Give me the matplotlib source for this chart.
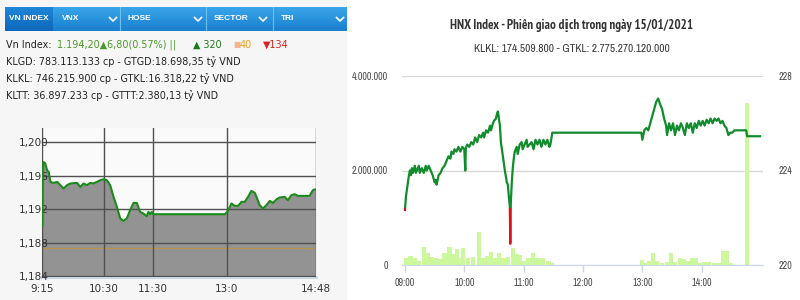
import numpy as np
import matplotlib.pyplot as plt
from matplotlib import font_manager as fm
from matplotlib.patches import Rectangle
from matplotlib.colors import LinearSegmentedColormap

# ---------------- left: VN-Index intraday (minutes after 9:15)
vn_minutes = [0, 0.85, 3.3, 5.7, 7.7, 9.7, 13.7, 17.9, 21.9, 25.9, 30, 34,
              42.2, 46.2, 50.2, 54.3, 58.3, 62.3, 66.5, 70.5, 74.5, 78.6, 82.6, 86.7,
              90.8, 94.8, 98.8, 102.9, 106.9, 111, 115.1, 119.1, 123.1, 127.2, 129.2, 131.3,
              133.3, 135.3, 222.4, 225.2, 228.5, 230.5, 234.5, 238.6, 242.7, 246.7, 250.7, 254.8,
              258.9, 261.7, 264.9, 268.9, 273.1, 277.1, 281.1, 285.2, 289.2, 295.3, 299.3, 303.5,
              307.5, 311.5, 325.7, 329.7, 331.8, 333]
vn_values = [1190.0, 1197.65, 1197.5, 1196.66, 1196.45, 1195.26, 1195.14, 1195.26, 1194.87, 1194.47, 1194.87, 1195.07,
             1195.14, 1194.66, 1195.07, 1194.87, 1195.14, 1195.07, 1195.26, 1195.46, 1195.58, 1195.46, 1194.87, 1193.47,
             1192.28, 1190.9, 1190.6, 1190.9, 1191.88, 1192.75, 1192.75, 1191.68, 1191.48, 1191.16, 1191.68, 1191.4,
             1191.68, 1191.4, 1191.4, 1191.68, 1192.28, 1192.68, 1192.4, 1192.4, 1192.88, 1192.88, 1193.47, 1194.19,
             1193.95, 1193.28, 1192.48, 1192.08, 1192.48, 1192.99, 1192.75, 1193.16, 1193.4, 1193.47, 1193.08, 1193.67,
             1193.79, 1193.59, 1193.59, 1194.27, 1194.35, 1194.35]
vn_ref = 1187.4
vn_xticks = [0, 75, 135, 225, 333]
vn_xlabels = ['9:15', '10:30', '11:30', '13:0', '14:48']
vn_yticks = [1184, 1188, 1192, 1196, 1200]
vn_ylabels = ['1,184', '1,188', '1,192', '1,196', '1,200']

tabs = ['VN INDEX', 'VNX', 'HOSE', 'SECTOR', 'TRI']
info_lines = ['KLGD: 783.113.133 cp - GTGD:18.698,35 tỷ VND',
              'KLKL: 746.215.900 cp - GTKL:16.318,22 tỷ VND',
              'KLTT: 36.897.233 cp - GTTT:2.380,13 tỷ VND']

# ---------------- right: HNX-Index intraday (minutes after 9:00)
hnx_minutes = [0, 1, 3, 4, 5, 6, 7, 8, 10, 11, 13, 14, 15, 17, 19, 21, 22, 24, 26, 28,
               30, 31, 32, 34, 36, 38, 40, 42, 44, 46, 47, 49, 50, 52, 54, 56, 58, 60, 61, 61.5,
               63, 65, 67, 69, 71, 73, 75, 77, 79, 80, 82, 84, 86, 87, 89, 90, 92, 93, 94, 95,
               96, 97, 99, 101, 103, 104, 105, 106, 106.5, 107, 108, 109, 110, 111, 113, 114, 116, 118, 119, 121,
               123, 124, 126, 128, 130, 132, 134, 136, 138, 140, 142, 144, 146, 147, 149, 239, 240, 242, 244, 246,
               248, 250, 252, 254, 256, 258, 260, 262, 264, 265, 267, 269, 271, 273, 275, 277, 279, 281, 283, 285,
               287, 289, 291, 293, 295, 297, 299, 301, 303, 305, 307, 309, 311, 313, 315, 317, 319, 321, 323, 325,
               327, 329, 331, 333, 345, 346, 359]
hnx_values = [222.33, 222.9, 223.5, 223.8, 224.0, 223.8, 224.1, 223.9, 224.2, 223.9, 224.1, 224.2, 223.9, 224.1, 223.9, 224.2, 224.0, 224.2, 224.0, 223.8,
              223.5, 223.6, 223.4, 223.8, 223.9, 224.1, 224.2, 224.4, 224.6, 224.5, 224.8, 224.7, 224.9, 224.8, 225.0, 224.8, 225.0, 224.9, 224.0, 224.95,
              225.1, 225.0, 225.2, 225.1, 225.4, 225.2, 225.5, 225.4, 225.6, 225.4, 225.7, 225.6, 225.9, 225.7, 226.0, 226.1, 226.2, 226.4, 226.5, 226.2,
              225.9, 225.2, 224.6, 224.0, 223.5, 223.4, 222.9, 222.5, 220.9, 222.6, 223.5, 224.1, 224.5, 224.8, 225.0, 224.7, 225.1, 225.2, 224.9, 225.1,
              225.3, 225.0, 225.1, 225.2, 224.9, 225.3, 225.1, 225.3, 225.0, 225.3, 225.1, 225.3, 225.0, 225.1, 225.6, 225.6, 225.3, 225.7, 225.8, 225.7,
              226.0, 226.3, 226.6, 226.9, 227.05, 226.8, 226.6, 226.2, 225.9, 225.5, 226.0, 225.7, 226.0, 225.5, 225.9, 225.7, 226.0, 225.8, 225.5, 226.0,
              225.8, 226.0, 225.6, 226.0, 225.8, 226.1, 225.9, 226.1, 225.9, 226.15, 226.0, 226.2, 226.0, 226.2, 226.1, 226.2, 226.0, 226.1, 225.9, 225.8,
              225.5, 225.6, 225.6, 225.7, 225.7, 225.45, 225.45]
hnx_ref = 222.4

vol_minutes = [1, 5.5, 10, 14, 19, 23.5, 27, 31, 35.5, 40, 45, 49, 52.5, 55.5, 59, 63.5, 69, 75,
               79, 83, 87, 91, 95, 99.5, 104, 109, 113, 116, 120, 125, 129.5, 134, 139, 145, 149,
               239.6, 243.3, 246.4, 250.8, 255.2, 259.9, 264.6, 269, 273.4, 278.1, 282.2, 286.5,
               290.6, 294.6, 298, 302, 306.8, 312.1, 316.9, 321.6, 325.7, 330, 345.5]
vol_values = [147e3, 182e3, 147e3, 91e3, 386e3, 253e3, 175e3, 147e3, 126e3, 253e3, 386e3, 232e3,
              330e3, 150e3, 358e3, 147e3, 161e3, 702e3, 150e3, 182e3, 281e3, 150e3, 253e3, 147e3,
              161e3, 358e3, 232e3, 218e3, 91e3, 150e3, 253e3, 147e3, 147e3, 91e3, 35e3,
              112e3, 42e3, 91e3, 253e3, 91e3, 42e3, 56e3, 253e3, 56e3, 140e3, 126e3, 91e3,
              147e3, 147e3, 42e3, 70e3, 70e3, 42e3, 42e3, 300e3, 300e3, 42e3, 3.43e6]
hnx_xticks = [0, 60, 120, 180, 240, 300]
hnx_xlabels = ['09:00', '10:00', '11:00', '12:00', '13:00', '14:00']

title = 'HNX Index - Phiên giao dịch trong ngày 15/01/2021'
subtitle = 'KLKL: 174.509.800 - GTKL: 2.775.270.120.000'

# narrow faces for the right chart (Liberation Sans Narrow), DejaVu fills missing glyphs
narrow = [f for f in fm.fontManager.ttflist if 'Narrow' in f.name and f.style == 'normal']
n_reg = sorted(f.name for f in narrow if f.weight in (400, 'normal', 'regular'))
n_bold = sorted(f.name for f in narrow if f.weight in (700, 'bold'))
NARROW = n_reg[:1] + ['DejaVu Sans']
NARROW_B = (n_bold or n_reg)[:1] + ['DejaVu Sans']
T_SIZE, S_SIZE, K_SIZE = (9.4, 8.2, 7.2) if n_reg else (7, 6.6, 5.8)

W, H = 800, 300

fig = plt.figure(figsize=(8, 3), dpi=100)
fig.patch.set_facecolor('white')
fig.patches.append(Rectangle((0, 0), 347 / W, 1, transform=fig.transFigure,
                             facecolor='#f6f6f6', edgecolor='none', zorder=-5))

# header bar
axh = fig.add_axes([5 / W, 1 - 31 / H, 342 / W, 24 / H])
grad = np.linspace(0, 1, 50).reshape(-1, 1)
axh.imshow(grad, extent=(0, 342, 0, 24), aspect='auto',
           cmap=LinearSegmentedColormap.from_list('b', ['#38a6ea', '#1b7fcf']))
axh.imshow(grad, extent=(0, 48, 0, 24), aspect='auto',
           cmap=LinearSegmentedColormap.from_list('d', ['#1f86d8', '#0f68bb']))
axh.set_xlim(0, 342)
axh.set_ylim(0, 24)
axh.axis('off')
for sx in [115, 201, 268]:
    axh.plot([sx, sx], [0, 24], color='#6cc0f0', lw=0.8)
for cx in [108, 193, 258, 335]:
    axh.plot([cx - 3.5, cx, cx + 3.5], [13.5, 10, 13.5], color='white', lw=1.2)
for tx, t in zip([4, 57, 123, 209, 276], tabs):
    axh.text(tx, 12, t, color='white', fontsize=6, fontweight='bold',
             family='Liberation Sans', va='center', ha='left')


# info text
def ftext(x, y, s, size=6.9, **kw):
    fig.text(x / W, 1 - y / H, s, va='center', ha='left', fontsize=size, **kw)


ftext(6, 45, 'Vn Index:', color='#222222')
ftext(57, 45, '1.194,20▲6,80(0.57%) ||', color='#4a9a28')
ftext(193, 45, '▲ 320', color='#1d7a1d')
ftext(233, 45, '■', color='#f7b48c', size=5.5)
ftext(240, 45, '40', color='#f0a020')
ftext(263, 45, '▼134', color='#e02020')
for i, line in enumerate(info_lines):
    ftext(6, 62 + 17 * i, line, color='#222222')

# left chart
ax = fig.add_axes([42 / W, 1 - 277 / H, 274 / W, 149 / H])
ax.set_facecolor('#fafafa')
ax.fill_between(vn_minutes, vn_values, 1183.9, color='#939393', lw=0, zorder=1)
ax.axhline(vn_ref, color='#b8924e', lw=0.9, zorder=2)
ax.plot(vn_minutes, vn_values, color='#1a8a1a', lw=1.5, zorder=3)
ax.set_xlim(-0.5, 333.5)
ax.set_ylim(1183.9, 1201.7)
ax.set_xticks(vn_xticks, vn_xlabels)
ax.set_yticks(vn_yticks, vn_ylabels)
ax.grid(True, color='#505050', lw=1.0, zorder=2)
ax.set_axisbelow(False)
ax.tick_params(axis='both', length=0, labelsize=7.5, labelcolor='#333333')
ax.tick_params(axis='y', pad=-4.5)
ax.tick_params(axis='x', pad=5)
for s in ax.spines.values():
    s.set_visible(False)
ax.spines['bottom'].set_visible(True)
ax.spines['bottom'].set_color('#c6d6e6')
ax.spines['bottom'].set_linewidth(2)

# right chart
fig.text(572 / W, 1 - 25 / H, title, ha='center', va='center', family=NARROW_B,
         fontweight='bold', fontsize=T_SIZE, color='#333333')
fig.text(572 / W, 1 - 49 / H, subtitle, ha='center', va='center', family=NARROW,
         fontsize=S_SIZE, color='#383838')

axr = fig.add_axes([402 / W, 1 - 265 / H, 361 / W, 189 / H])
axr.bar(vol_minutes, vol_values, width=4.3, color='#ccf79c', lw=0, zorder=2)
axr.set_xlim(-3, 362)
axr.set_ylim(0, 4e6)
axr.set_yticks([0, 2e6, 4e6], ['0', '2.000.000', '4.000.000'])
axr.set_xticks(hnx_xticks, hnx_xlabels)
axr.grid(True, axis='y', color='#d8d8d8', lw=1.0, zorder=0)
axr.set_axisbelow(True)
for s in axr.spines.values():
    s.set_visible(False)
axr.spines['bottom'].set_visible(True)
axr.spines['bottom'].set_color('#ccd6eb')
axr.tick_params(axis='x', length=5, width=1, color='#ccd6eb', pad=4.5, labelcolor='#4a4a4a')
axr.tick_params(axis='y', length=0, pad=10, labelcolor='#4a4a4a')

ax2 = axr.twinx()
ax2.set_ylim(220, 228)
ax2.set_yticks([220, 224, 228])
ax2.tick_params(axis='y', length=0, pad=11, labelcolor='#4a4a4a')
for lb in axr.get_xticklabels() + axr.get_yticklabels() + ax2.get_yticklabels():
    lb.set_family(NARROW)
    lb.set_fontsize(K_SIZE)
for s in ax2.spines.values():
    s.set_visible(False)
up = ax2.plot(hnx_minutes, hnx_values, color='#118c2c', lw=1.6)[0]
dn = ax2.plot(hnx_minutes, hnx_values, color='#e0101a', lw=1.6)[0]
up.set_clip_path(Rectangle((-3, hnx_ref), 365, 10, transform=ax2.transData))
dn.set_clip_path(Rectangle((-3, 215), 365, hnx_ref - 215, transform=ax2.transData))

fig.savefig('out.png', dpi=100)
